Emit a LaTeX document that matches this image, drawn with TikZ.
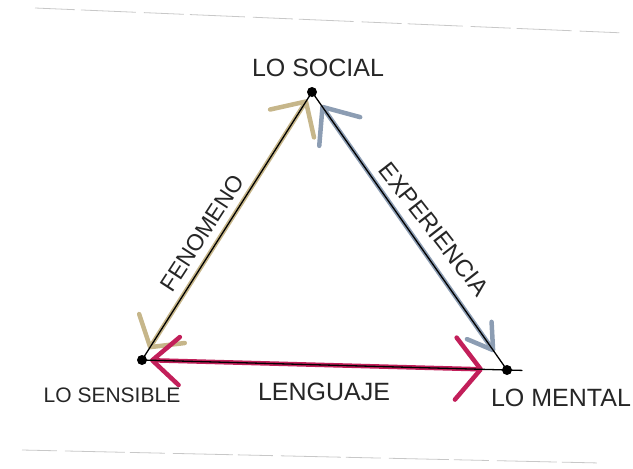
\documentclass[tikz,border=0pt]{standalone}
\usepackage{fontspec}
\setmainfont{Liberation Sans}
\usetikzlibrary{arrows.meta}
\definecolor{tan}{HTML}{C6B68A}
\definecolor{slate}{HTML}{8C9DB3}
\definecolor{rose}{HTML}{C21F5A}
\definecolor{paper}{HTML}{C8C8C8}
\tikzset{
  vdot/.style={circle,fill=black,inner sep=0pt,minimum size=10pt},
  ink/.style={draw=black,line width=1.3pt,line cap=round},
  marker/.style={line width=4.5pt,line cap=round,line join=round},
  lbl/.style={inner sep=0pt,text=black!85},
  edgeline/.style={draw=paper,line width=0.8pt}
}
\begin{document}
\begin{tikzpicture}[x=1pt,y=-1pt]
\useasboundingbox (0,0) rectangle (633,469);
% paper edges
\coordinate (t1) at (35,8); \coordinate (t2) at (625,33);
\coordinate (b1) at (22,450); \coordinate (b2) at (600,463);
\draw[edgeline,dash pattern=on 40pt off 6pt on 55pt off 8pt] (t1) -- (t2);
\draw[edgeline,dash pattern=on 35pt off 8pt on 60pt off 5pt] (b1) -- (b2);
% vertices
\node[vdot] (soc) at (312,92) {};
\node[vdot] (sen) at (142,360) {};
\node[vdot] (men) at (507,370) {};
% coloured edges
\draw[marker,tan,
  arrows={Straight Barb[length=22pt,width=54pt,round]-Straight Barb[length=26pt,width=52pt,round]},
  shorten <=13pt, shorten >=9pt] (sen.center) -- (soc.center);
\draw[marker,slate,
  arrows={Straight Barb[length=30pt,width=50pt,round]-Straight Barb[length=24pt,width=30pt,round]},
  shorten <=16pt, shorten >=22pt] (soc.center) -- (men.center);
\draw[marker,rose,
  arrows={Straight Barb[length=27pt,width=48pt,round]-Straight Barb[length=25pt,width=62pt,round]},
  shorten <=8pt, shorten >=24pt] (sen.center) -- (men.center);
% ink lines
\draw[ink] (sen.center) -- (soc.center);
\draw[ink] (soc.center) -- (men.center);
\draw[ink,shorten >=-15pt] (sen.center) -- (men.center);
% labels
\node[lbl,font=\fontsize{25}{25}\selectfont] (lsoc) at (318,68) {LO SOCIAL};
\node[lbl,font=\fontsize{21}{21}\selectfont] (lsen) at (112,395) {LO SENSIBLE};
\node[lbl,font=\fontsize{25}{25}\selectfont] (lmen) at (561,398) {LO MENTAL};
\node[lbl,font=\fontsize{25}{25}\selectfont] (lleng) at (324,392) {LENGUAJE};
\node[lbl,font=\fontsize{23}{23}\selectfont,rotate=57] (lfen) at (202,233) {FENOMENO};
\node[lbl,font=\fontsize{24}{24}\selectfont\addfontfeature{Kerning=Off},rotate=-52] (lexp) at (434,229) {EXPERIENCIA};
\end{tikzpicture}
\end{document}
